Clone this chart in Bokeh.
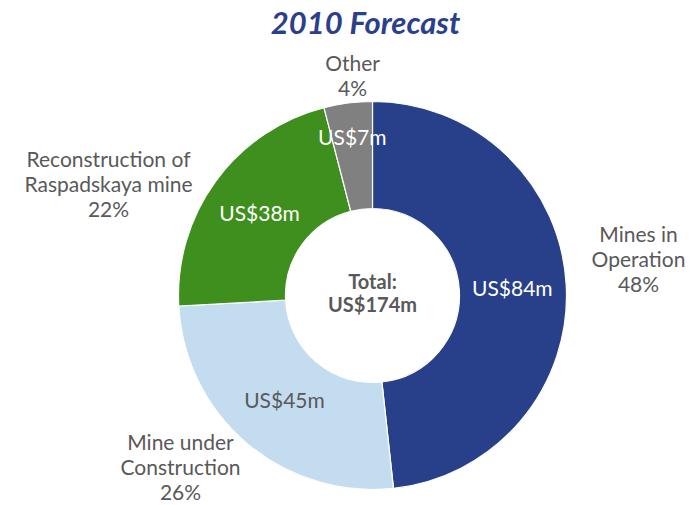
import math
from bokeh.plotting import figure
from bokeh.models import Range1d, ColumnDataSource, Label
from bokeh.embed import file_html
from bokeh.resources import INLINE
from bokeh.core.properties import value

# ---- data ----
categories = ["Mines in Operation", "Mine under Construction", "Reconstruction of Raspadskaya mine", "Other"]
amounts = [84, 45, 38, 7]          # US$ m
percent_labels = ["48%", "26%", "22%", "4%"]
value_labels = ["US$84m", "US$45m", "US$38m", "US$7m"]
outside_lines = [["Mines in", "Operation"], ["Mine under", "Construction"],
                 ["Reconstruction of", "Raspadskaya mine"], ["Other"]]
title_text = "2010 Forecast"
total_text = ["Total:", "US$174m"]

# ---- styles ----
colors = ["#283F89", "#C4DCF0", "#3E8F1E", "#808080"]
inner_text_colors = ["white", "#595959", "white", "white"]
FONT = "Lato"
GREY = "#595959"

W, H = 691, 505
p = figure(width=W, height=H, output_backend="svg", toolbar_location=None,
           x_range=Range1d(0, W), y_range=Range1d(0, H), min_border=0)
p.axis.visible = False
p.grid.visible = False
p.outline_line_color = None
p.background_fill_color = "white"

def Y(py):
    return H - py

cx, cy = 372, Y(295)
r_out, r_in = 194, 87

total = sum(amounts)
starts, ends, mids = [], [], []
cum = 0
for a in amounts:
    s = math.pi / 2 - 2 * math.pi * cum / total
    cum += a
    e = math.pi / 2 - 2 * math.pi * cum / total
    starts.append(s)
    ends.append(e)
    mids.append((s + e) / 2)

src = ColumnDataSource(dict(start=starts, end=ends, color=colors))
p.annular_wedge(x=cx, y=cy, inner_radius=r_in, outer_radius=r_out,
                start_angle="start", end_angle="end", direction="clock",
                fill_color="color", line_color="white", line_width=1.2, source=src)

# value labels inside slices
label_r = [140, 136, 140, 160]
lx = [cx + rr * math.cos(m) for rr, m in zip(label_r, mids)]
ly = [cy + rr * math.sin(m) for rr, m in zip(label_r, mids)]
lsrc = ColumnDataSource(dict(x=lx, y=ly, t=value_labels, c=inner_text_colors))
p.text(x="x", y="y", text="t", text_color="c", source=lsrc,
       text_font=value(FONT), text_font_size="21px",
       text_align="center", text_baseline="middle")

# centre total
p.text(x=[cx, cx], y=[Y(280), Y(303)], text=total_text, text_color=GREY,
       text_font=value(FONT), text_font_size="20px", text_font_style="bold",
       text_align="center", text_baseline="middle")

# outside category labels (centre x, first-line centre y in picture pixels)
out_pos = [(638, 233), (180, 441), (108, 158), (352, 62)]
line_h = 25
for lines, pct, (ox, oy) in zip(outside_lines, percent_labels, out_pos):
    all_lines = lines + [pct]
    ys = [Y(oy + i * line_h) for i in range(len(all_lines))]
    p.text(x=[ox] * len(all_lines), y=ys, text=all_lines, text_color=GREY,
           text_font=value(FONT), text_font_size="21px",
           text_align="center", text_baseline="middle")

# title
p.add_layout(Label(x=365, y=Y(21), text=title_text, text_color="#2B3F8B",
                   text_font=FONT, text_font_size="31px", text_font_style="bold italic",
                   text_align="center", text_baseline="middle"))

open("out.html", "w").write(file_html(p, INLINE))
